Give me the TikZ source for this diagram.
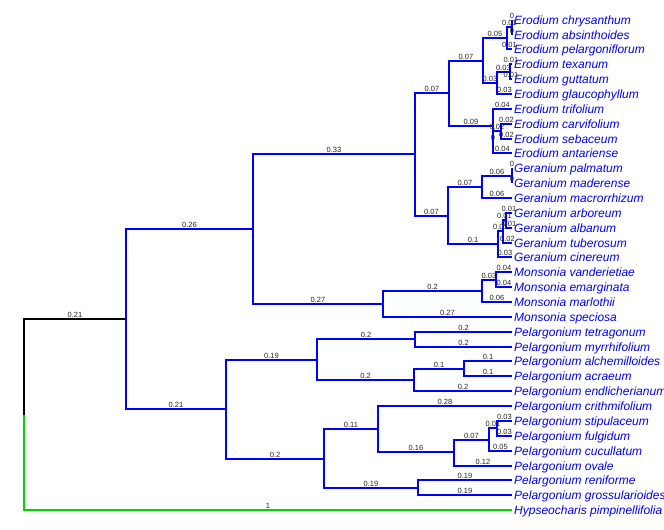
\documentclass[tikz,border=0pt]{standalone}
\usepackage{fontspec}
\setmainfont{Liberation Sans}
\definecolor{treeblue}{RGB}{0,0,255}
\definecolor{treegreen}{RGB}{0,215,0}
\tikzset{
  edge/.style={draw=treeblue, line width=1.8pt},
  rootedge/.style={draw=black, line width=1.8pt},
  outedge/.style={draw=treegreen, line width=1.8pt},
  bl/.style={font=\fontsize{7.5}{8}\selectfont, text=black!85, anchor=base, inner sep=0pt, yshift=1.9pt, pos=0.75},
  tiplabel/.style={font=\fontsize{12}{14}\selectfont\itshape, text=treeblue, anchor=base west, inner xsep=2pt, inner ysep=0pt, yshift=-4.2pt}
}
\begin{document}
\begin{tikzpicture}[x=1pt,y=-1pt]
\useasboundingbox (0,0) rectangle (664,530);
% tips
\foreach \i/\yy/\nm in {1/20/Erodium chrysanthum,2/35/Erodium absinthoides,3/49/Erodium pelargoniflorum,4/64/Erodium texanum,5/79/Erodium guttatum,6/94/Erodium glaucophyllum,7/109/Erodium trifolium,8/124/Erodium carvifolium,9/139/Erodium sebaceum,10/153/Erodium antariense,11/168/Geranium palmatum,12/183/Geranium maderense,13/198/Geranium macrorrhizum,14/213/Geranium arboreum,15/228/Geranium albanum,16/243/Geranium tuberosum,17/257/Geranium cinereum,18/272/Monsonia vanderietiae,19/287/Monsonia emarginata,20/302/Monsonia marlothii,21/317/Monsonia speciosa,22/332/Pelargonium tetragonum,23/347/Pelargonium myrrhifolium,24/361/Pelargonium alchemilloides,25/376/Pelargonium acraeum,26/391/Pelargonium endlicherianum,27/406/Pelargonium crithmifolium,28/421/Pelargonium stipulaceum,29/436/Pelargonium fulgidum,30/451/Pelargonium cucullatum,31/466/Pelargonium ovale,32/480/Pelargonium reniforme,33/495/Pelargonium grossularioides,34/510/Hypseocharis pimpinellifolia}{
  \coordinate (t\i) at (512,\yy);
  \node[tiplabel] (l\i) at (t\i) {\nm};
}
% internal nodes
\coordinate (nca) at (512,27);
\coordinate (E1a) at (507,38);
\coordinate (ntg) at (510,72);
\coordinate (E1b) at (497,83);
\coordinate (E1) at (483,61);
\coordinate (Y) at (501,131);
\coordinate (X) at (493,142);
\coordinate (E2) at (493,126);
\coordinate (E) at (449,93);
\coordinate (npm) at (512,176);
\coordinate (Ge1) at (482,187);
\coordinate (W) at (506,220);
\coordinate (Z) at (503,231);
\coordinate (Ge2) at (498,244);
\coordinate (Ge) at (448,216);
\coordinate (GE) at (415,154);
\coordinate (M2) at (496,280);
\coordinate (M1) at (482,291);
\coordinate (M) at (383,304);
\coordinate (G) at (253,229);
\coordinate (Pa) at (415,339);
\coordinate (Pc) at (464,369);
\coordinate (Pb) at (414,380);
\coordinate (P1) at (317,360);
\coordinate (Ph) at (497,428);
\coordinate (Pg) at (489,440);
\coordinate (Pf) at (454,452);
\coordinate (Pd) at (378,429);
\coordinate (Pe) at (418,488);
\coordinate (P2) at (324,459);
\coordinate (P) at (226,409);
\coordinate (A) at (126,319);
\coordinate (root) at (24,415);
% edges
\draw[rootedge] (root) |- node[bl]{0.21} (A);
\draw[outedge] (root) |- node[bl]{1} (t34);
\draw[edge] (A) |- node[bl]{0.26} (G);
\draw[edge] (A) |- node[bl]{0.21} (P);
\draw[edge] (G) |- node[bl]{0.33} (GE);
\draw[edge] (G) |- node[bl]{0.27} (M);
\draw[edge] (GE) |- node[bl]{0.07} (E);
\draw[edge] (GE) |- node[bl]{0.07} (Ge);
\draw[edge] (E) |- node[bl]{0.07} (E1);
\draw[edge] (E) |- node[bl]{0.09} (E2);
\draw[edge] (E1) |- node[bl]{0.05} (E1a);
\draw[edge] (E1) |- node[bl]{0.03} (E1b);
\draw[edge] (E1a) |- node[bl]{0.01} (nca);
\draw[edge] (nca) |- node[bl]{0} (t1);
\draw[edge] (nca) |- node[bl]{0} (t2);
\draw[edge] (E1a) |- node[bl]{0.01} (t3);
\draw[edge] (E1b) |- node[bl]{0.03} (ntg);
\draw[edge] (ntg) |- node[bl]{0.01} (t4);
\draw[edge] (ntg) |- node[bl]{0.01} (t5);
\draw[edge] (E1b) |- node[bl]{0.03} (t6);
\draw[edge] (E2) |- node[bl]{0.04} (t7);
\draw[edge] (E2) |- node[bl]{0} (X);
\draw[edge] (X) |- node[bl]{0.02} (Y);
\draw[edge] (Y) |- node[bl]{0.02} (t8);
\draw[edge] (Y) |- node[bl]{0.02} (t9);
\draw[edge] (X) |- node[bl]{0.04} (t10);
\draw[edge] (Ge) |- node[bl]{0.07} (Ge1);
\draw[edge] (Ge) |- node[bl]{0.1} (Ge2);
\draw[edge] (Ge1) |- node[bl]{0.06} (npm);
\draw[edge] (npm) |- node[bl]{0} (t11);
\draw[edge] (npm) |- node[bl]{0} (t12);
\draw[edge] (Ge1) |- node[bl]{0.06} (t13);
\draw[edge] (Ge2) |- node[bl]{0.01} (Z);
\draw[edge] (Z) |- node[bl]{0.01} (W);
\draw[edge] (W) |- node[bl]{0.01} (t14);
\draw[edge] (W) |- node[bl]{0.01} (t15);
\draw[edge] (Z) |- node[bl]{0.02} (t16);
\draw[edge] (Ge2) |- node[bl]{0.03} (t17);
\draw[edge] (M) |- node[bl]{0.2} (M1);
\draw[edge] (M) |- node[bl]{0.27} (t21);
\draw[edge] (M1) |- node[bl]{0.03} (M2);
\draw[edge] (M2) |- node[bl]{0.04} (t18);
\draw[edge] (M2) |- node[bl]{0.04} (t19);
\draw[edge] (M1) |- node[bl]{0.06} (t20);
\draw[edge] (P) |- node[bl]{0.19} (P1);
\draw[edge] (P) |- node[bl]{0.2} (P2);
\draw[edge] (P1) |- node[bl]{0.2} (Pa);
\draw[edge] (Pa) |- node[bl]{0.2} (t22);
\draw[edge] (Pa) |- node[bl]{0.2} (t23);
\draw[edge] (P1) |- node[bl]{0.2} (Pb);
\draw[edge] (Pb) |- node[bl]{0.1} (Pc);
\draw[edge] (Pc) |- node[bl]{0.1} (t24);
\draw[edge] (Pc) |- node[bl]{0.1} (t25);
\draw[edge] (Pb) |- node[bl]{0.2} (t26);
\draw[edge] (P2) |- node[bl]{0.11} (Pd);
\draw[edge] (Pd) |- node[bl]{0.28} (t27);
\draw[edge] (Pd) |- node[bl]{0.16} (Pf);
\draw[edge] (Pf) |- node[bl]{0.07} (Pg);
\draw[edge] (Pg) |- node[bl]{0.01} (Ph);
\draw[edge] (Ph) |- node[bl]{0.03} (t28);
\draw[edge] (Ph) |- node[bl]{0.03} (t29);
\draw[edge] (Pg) |- node[bl]{0.05} (t30);
\draw[edge] (Pf) |- node[bl]{0.12} (t31);
\draw[edge] (P2) |- node[bl]{0.19} (Pe);
\draw[edge] (Pe) |- node[bl]{0.19} (t32);
\draw[edge] (Pe) |- node[bl]{0.19} (t33);
\end{tikzpicture}
\end{document}
